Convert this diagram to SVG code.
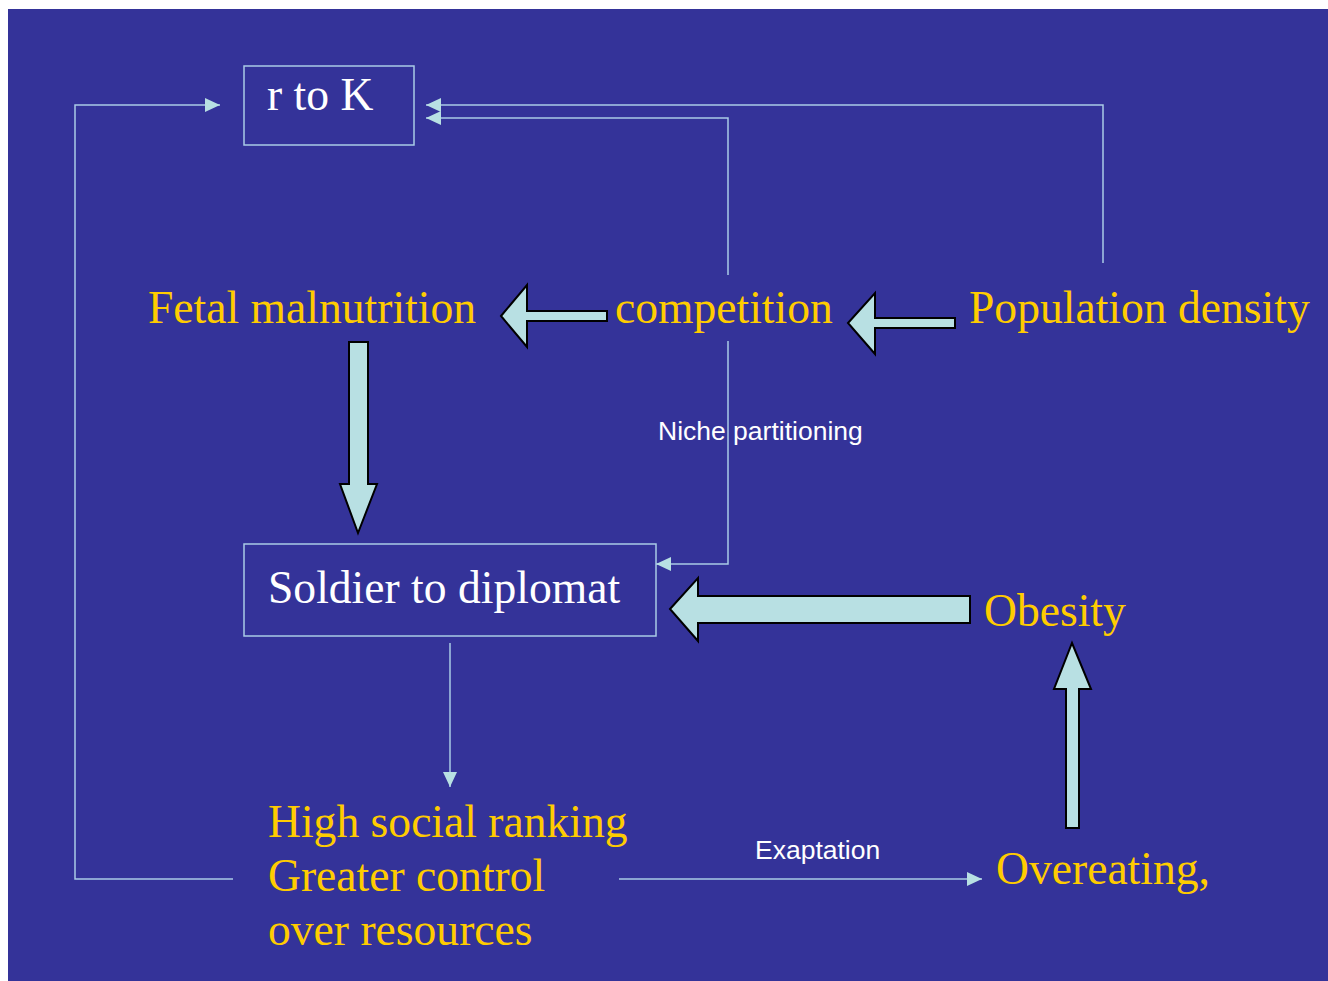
<svg xmlns="http://www.w3.org/2000/svg" width="1328" height="981" viewBox="0 0 1328 981">
<style>
.bg{fill:#343399}
.box{fill:none;stroke:#A9CCE6;stroke-width:1.5}
.ln{fill:none;stroke:#A9CCE6;stroke-width:1.5}
.blk{fill:#B8E0E3;stroke:#000;stroke-width:2;stroke-linejoin:miter}
.y{font-family:"Liberation Serif",serif;font-size:45.6px;fill:#FFCC00}
.w{font-family:"Liberation Serif",serif;font-size:45.6px;fill:#FFFFFF}
.lbl{font-family:"Liberation Sans",Arial,sans-serif;font-size:26.5px;fill:#FFFFFF}
</style>
<defs>
<marker id="ah" markerWidth="15" markerHeight="14" refX="15" refY="7" orient="auto" markerUnits="userSpaceOnUse">
<path d="M0,0 L15,7 L0,14 Z" fill="#B8E0E3"/>
</marker>
</defs>
<rect x="0" y="0" width="1328" height="981" fill="#FFFFFF"/>
<rect class="bg" x="8" y="9" width="1320" height="972"/>
<g id="connectors">
<polyline class="ln" points="233,879 75,879 75,105 220,105" marker-end="url(#ah)"/>
<polyline class="ln" points="1103,263 1103,105 426,105" marker-end="url(#ah)"/>
<polyline class="ln" points="728,275 728,118 426,118" marker-end="url(#ah)"/>
<polyline class="ln" points="728,341 728,564 656,564" marker-end="url(#ah)"/>
<line class="ln" x1="450" y1="643" x2="450" y2="787" marker-end="url(#ah)"/>
<line class="ln" x1="619" y1="879" x2="982" y2="879" marker-end="url(#ah)"/>
<path class="blk" d="M501,316 L527,285 L527,311 L607,311 L607,321 L527,321 L527,347 Z"/>
<path class="blk" d="M848,323 L875,293 L875,318 L955,318 L955,328 L875,328 L875,354 Z"/>
<path class="blk" d="M349,342 L368,342 L368,484 L377,484 L358,533 L340,484 L349,484 Z"/>
<path class="blk" d="M670,609 L698,578 L698,596 L970,596 L970,623 L698,623 L698,641 Z"/>
<path class="blk" d="M1072,643 L1091,689 L1079,689 L1079,828 L1066,828 L1066,689 L1054,689 Z"/>
<text class="lbl" x="658" y="440">Niche partitioning</text>
<text class="lbl" x="755" y="859">Exaptation</text>
</g>
<g id="rtoK">
<rect class="box" x="244" y="66" width="170" height="79"/>
<text class="w" x="267" y="110">r to K</text>
</g>
<g id="fetal">
<text class="y" x="148" y="323">Fetal malnutrition</text>
</g>
<g id="competition">
<text class="y" x="615" y="323">competition</text>
</g>
<g id="population">
<text class="y" x="969" y="323">Population density</text>
</g>
<g id="soldier">
<rect class="box" x="244" y="544" width="412" height="92"/>
<text class="w" x="268" y="603">Soldier to diplomat</text>
</g>
<g id="obesity">
<text class="y" x="984" y="626">Obesity</text>
</g>
<g id="overeating">
<text class="y" x="996" y="884">Overeating,</text>
</g>
<g id="ranking">
<text class="y" x="268" y="837">High social ranking</text>
<text class="y" x="268" y="891">Greater control</text>
<text class="y" x="268" y="945">over resources</text>
</g>
</svg>
